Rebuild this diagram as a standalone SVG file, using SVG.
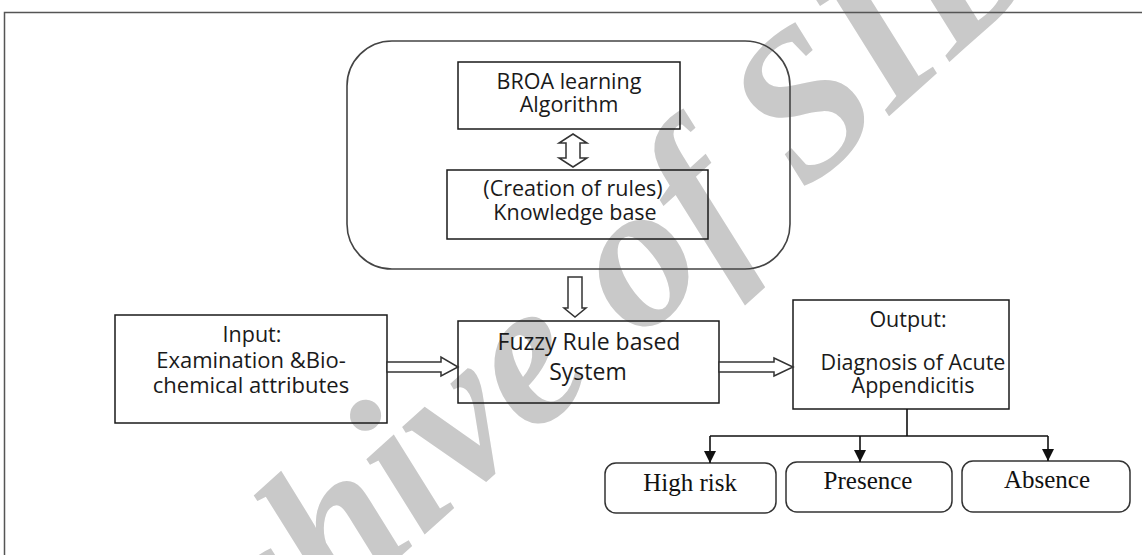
<svg xmlns="http://www.w3.org/2000/svg" width="1142" height="555" viewBox="0 0 1142 555">
<defs>
<style>
.box{fill:none;stroke:#1a1a1a;stroke-width:1.5}
.rbox{fill:none;stroke:#333;stroke-width:1.5}
.cont{fill:none;stroke:#444;stroke-width:1.6}
.blk{fill:#fff;stroke:#333;stroke-width:1.5;stroke-linejoin:miter}
.t{font-family:"Open Sans","Noto Sans",sans-serif;font-size:21.5px;fill:#1a1a1a;text-anchor:middle}
.s{font-family:"Liberation Serif",serif;font-size:25px;fill:#111;text-anchor:middle}
.ln{fill:none;stroke:#111;stroke-width:1.6}
.wm{font-family:"Liberation Serif",serif;font-style:italic;font-weight:bold;font-size:207px;fill:#c9c9c9;text-anchor:middle}
</style>
<marker id="ah" viewBox="0 0 12 12" refX="12" refY="6" markerWidth="12" markerHeight="12" markerUnits="userSpaceOnUse" orient="auto">
<path d="M0,0 L12,6 L0,12 Z" fill="#111"/>
</marker>
</defs>
<rect width="1142" height="555" fill="#fff"/>
<g id="watermark">
<text class="wm" transform="translate(583,392) rotate(-42)">Archive of SID</text>
</g>
<g id="frame">
<path d="M4.5,600 V12.5 H1200" fill="none" stroke="#555" stroke-width="1.5"/>
</g>
<g id="container">
<rect class="cont" x="347" y="41" width="443" height="228" rx="45" ry="45"/>
</g>
<g id="broa">
<rect class="box" x="458" y="62" width="222" height="67"/>
<text class="t" x="569" y="89">BROA learning</text>
<text class="t" x="569" y="112">Algorithm</text>
</g>
<g id="kb">
<rect class="box" x="447" y="170" width="261" height="69"/>
<text class="t" x="573" y="196">(Creation of rules)</text>
<text class="t" x="575" y="220">Knowledge base</text>
</g>
<g id="input">
<rect class="box" x="115" y="315" width="272" height="108"/>
<text class="t" x="252" y="342">Input:</text>
<text class="t" x="251" y="368" style="font-size:22px">Examination &amp;Bio-</text>
<text class="t" x="251" y="393" style="font-size:22px">chemical attributes</text>
</g>
<g id="fuzzy">
<rect class="box" x="458" y="321" width="261" height="82"/>
<text class="t" x="589" y="350" style="font-size:23px">Fuzzy Rule based</text>
<text class="t" x="588" y="380" style="font-size:23px">System</text>
</g>
<g id="output">
<rect class="box" x="793" y="300" width="216" height="109"/>
<text class="t" x="908" y="327">Output:</text>
<text class="t" x="913" y="370">Diagnosis of Acute</text>
<text class="t" x="913" y="393">Appendicitis</text>
</g>
<g id="highrisk">
<rect class="rbox" x="605" y="463" width="171" height="50" rx="11"/>
<text class="s" x="690" y="491">High risk</text>
</g>
<g id="presence">
<rect class="rbox" x="786" y="462" width="166" height="50" rx="11"/>
<text class="s" x="868" y="489">Presence</text>
</g>
<g id="absence">
<rect class="rbox" x="962" y="461" width="168" height="51" rx="11"/>
<text class="s" x="1047" y="488">Absence</text>
</g>
<g id="connectors">
<path class="blk" d="M573,134 L587,143 L580,143 L580,158 L587,158 L573,167 L559,158 L566,158 L566,143 L559,143 Z"/>
<path class="blk" d="M568,277 L582,277 L582,308 L586,308 L575,317 L564,308 L568,308 Z"/>
<path class="blk" d="M387,362 L441,362 L441,357 L458,367 L441,376 L441,372 L387,372 Z"/>
<path class="blk" d="M719,362 L774,362 L774,358 L793,367 L774,376 L774,372 L719,372 Z"/>
<path class="ln" d="M907,409 V436 M710,436 H1048"/>
<path class="ln" d="M710,436 V463" marker-end="url(#ah)"/>
<path class="ln" d="M860,436 V462" marker-end="url(#ah)"/>
<path class="ln" d="M1048,436 V461" marker-end="url(#ah)"/>
</g>
</svg>
